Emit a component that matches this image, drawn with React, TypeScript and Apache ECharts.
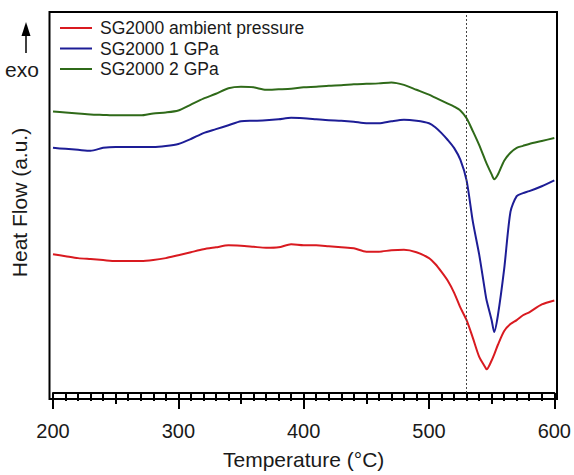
import React, { useEffect, useRef } from "react";
import * as echarts from "echarts";

const temps = [
  200, 210, 220, 230, 240, 250, 260, 270, 280, 290, 300, 310, 320, 330, 340, 350,
  360, 370, 380, 390, 400, 410, 420, 430, 440, 450, 460, 470, 480, 490, 500,
  505, 510, 515, 520, 525, 530, 535, 540, 545, 546, 550, 552, 555, 560, 565, 570,
  575, 580, 590, 600,
];

const ambient = [
  141, 139, 137, 136, 135, 134, 134, 134, 135, 137, 140, 143, 146, 148, 150, 149.5,
  148.5, 147.5, 148, 151, 150, 150, 149, 148, 147, 143.5, 143.5, 145, 145.5, 143, 137,
  131, 123, 114, 102, 87, 74, 56, 37, 26, 24, 33, 39, 49, 63, 70, 74,
  79, 82, 90, 94,
];

const gpa1 = [
  249, 248, 247, 246, 249, 250, 250, 250, 250, 251, 253, 258, 264, 268, 272, 276,
  276.5, 277, 278, 279.5, 279, 278, 277, 276.5, 275.5, 274, 274, 276, 277.5, 276.5, 274,
  270, 264, 257, 249, 237, 216, 174, 141, 101, 94, 74, 62, 79, 126, 184, 200,
  203, 205, 210, 216,
];

const gpa2 = [
  286, 285, 284, 283, 282.5, 282, 282, 282, 284, 285, 287, 293, 299, 304, 309.5, 311,
  310.5, 308, 308.5, 309, 310.5, 311, 312, 312.5, 313.5, 314, 314.5, 315.5, 313, 308, 303,
  300, 297, 294, 291, 287, 279, 266, 252, 236, 233, 222, 217, 222, 236, 244, 249,
  251, 253, 256, 259,
];

const seriesNames = ["SG2000 ambient pressure", "SG2000 1 GPa", "SG2000 2 GPa"];
const seriesColors = ["#d91a20", "#1d1d96", "#2f6a19"];
const markerTemp = 530;
const xTicks = [200, 300, 400, 500, 600];

const FONT = "'Liberation Sans', Arial, Helvetica, sans-serif";

export default function App() {
  const ref = useRef<HTMLDivElement>(null);

  useEffect(() => {
    if (!ref.current) return;
    const chart = echarts.init(ref.current, null, { renderer: "svg" });
    const datasets = [ambient, gpa1, gpa2];
    const series: any[] = datasets.map((vals, i) => ({
      name: seriesNames[i],
      type: "line",
      xAxisIndex: 0,
      yAxisIndex: 0,
      data: temps.map((t, j) => [t, vals[j]]),
      symbol: "none",
      smooth: 0.25,
      lineStyle: { color: seriesColors[i], width: 2 },
      itemStyle: { color: seriesColors[i] },
      z: 3,
      ...(i === 0
        ? {
            markLine: {
              silent: true,
              symbol: "none",
              label: { show: false },
              lineStyle: { type: [2, 2], color: "#444", width: 1 },
              data: [{ xAxis: markerTemp }],
            },
          }
        : {}),
    }));

    chart.setOption({
      animation: false,
      textStyle: { fontFamily: FONT },
      grid: { left: 53, right: 18, top: 12, bottom: 76, show: false },
      legend: {
        orient: "vertical",
        left: 60,
        top: 18,
        padding: 0,
        icon: "rect",
        itemWidth: 32,
        itemHeight: 2,
        itemGap: 0.5,
        data: seriesNames,
        textStyle: {
          fontFamily: FONT,
          fontSize: 17.5,
          color: "#1a1a1a",
          lineHeight: 20,
          padding: [0, 0, 0, 3],
        },
      },
      xAxis: [
        {
          type: "value",
          min: 200,
          max: 600,
          interval: 100,
          position: "bottom",
          name: "Temperature (°C)",
          nameLocation: "middle",
          nameGap: 56,
          nameTextStyle: { fontFamily: FONT, fontSize: 21, color: "#1a1a1a" },
          axisLine: { show: true, lineStyle: { color: "#000", width: 2 } },
          axisTick: { show: true, length: 16, lineStyle: { color: "#000", width: 2 } },
          minorTick: { show: true, splitNumber: 10, length: 8, lineStyle: { color: "#000", width: 2 } },
          axisLabel: {
            margin: 28,
            fontFamily: FONT,
            fontSize: 20,
            color: "#1a1a1a",
            formatter: (v: number) => (xTicks.includes(v) ? String(v) : ""),
          },
          splitLine: { show: false },
          minorSplitLine: { show: false },
        },
        {
          type: "value",
          min: 200,
          max: 600,
          interval: 50,
          position: "bottom",
          offset: 0,
          axisLine: { show: false },
          axisTick: { show: true, length: 11, lineStyle: { color: "#000", width: 2 } },
          axisLabel: { show: false },
          splitLine: { show: false },
        },
      ],
      yAxis: {
        type: "value",
        min: 0,
        max: 387,
        name: "Heat Flow (a.u.)",
        nameLocation: "middle",
        nameGap: 23,
        nameTextStyle: { fontFamily: FONT, fontSize: 21, color: "#1a1a1a" },
        axisLine: { show: false },
        axisTick: { show: false },
        axisLabel: { show: false },
        splitLine: { show: false },
      },
      graphic: [
        {
          type: "rect",
          shape: { x: 49.5, y: 12, width: 507.5, height: 387 },
          style: { fill: "none", stroke: "#000", lineWidth: 2 },
          silent: true,
          z: 10,
        },
        {
          type: "line",
          shape: { x1: 26, y1: 34, x2: 26, y2: 53 },
          style: { stroke: "#000", lineWidth: 1.5 },
          silent: true,
        },
        {
          type: "polygon",
          shape: { points: [[21.5, 36], [30.5, 36], [26, 22]] },
          style: { fill: "#000" },
          silent: true,
        },
        {
          type: "text",
          x: 5,
          y: 69,
          style: {
            text: "exo",
            fontFamily: FONT,
            fontSize: 21,
            fill: "#1a1a1a",
            verticalAlign: "middle",
          },
          silent: true,
        },
      ],
      series,
    });

    return () => chart.dispose();
  }, []);

  return (
    <div
      ref={ref}
      style={{ position: "absolute", left: 0, top: 0, width: 574, height: 475, background: "#fff" }}
    />
  );
}
